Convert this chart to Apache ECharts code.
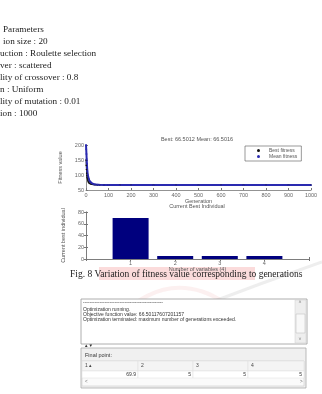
<!DOCTYPE html>
<html><head><meta charset="utf-8">
<script src="https://cdn.jsdelivr.net/npm/echarts@6/dist/echarts.min.js"></script>
<style>html,body{margin:0;padding:0;background:#fff}#c{width:322px;height:394px}</style>
</head><body><div id="c"></div>
<script>
// ---- data ----
const paramLines = ["Parameters","ion size : 20","uction : Roulette selection","ver : scattered","lity of crossover : 0.8","n : Uniform","lity of mutation : 0.01","ion : 1000"];
const generations = [0,1,2,3,4,5,6,8,10,12,15,20,25,30,35,40,50,60,80,100,150,200,300,400,500,600,700,800,900,1000];
const bestFitness = [150,132,118,106,98,92,87,81,77,74,72,70,69,68.4,68,67.6,67.1,66.8,66.62,66.56,66.52,66.51,66.503,66.502,66.5015,66.5013,66.5012,66.5012,66.5012,66.5012];
const meanFitness = [200,186,170,153,138,124,113,101,93,87,81,76,72.5,70.5,69.3,68.6,67.6,67.1,66.75,66.62,66.55,66.52,66.508,66.504,66.502,66.5018,66.5017,66.5016,66.5016,66.5016];
const genTicks = [0,100,200,300,400,500,600,700,800,900,1000];
const fitnessTicks = [50,100,150,200];
const variables = [1,2,3,4];
const bestIndividual = [69.9,5,5,5];
const indivTicks = [0,20,40,60,80];
const bestTitle = "Best: 66.5012 Mean: 66.5016";
const caption = "Fig. 8 Variation of fitness value corresponding to generations";
const logLines = ["------------------------------------------------","Optimization running.","Objective function value: 66.50117607201157","Optimization terminated: maximum number of generations exceeded."];
const finalHeaders = ["1 \u25B4","2","3","4"];
const finalValues = ["69.9","5","5","5"];

const chart = echarts.init(document.getElementById('c'), null, {renderer:'canvas'});
const sans = 'Liberation Sans, Arial, sans-serif';
const serif = 'Liberation Serif, Times New Roman, serif';
const tickLbl = {fontSize:5.5, color:'#666', fontFamily:sans};

const graphics = [];
// watermark
graphics.push({type:'rect', shape:{x:99,y:267,width:156,height:13}, style:{fill:'rgba(248,190,190,0.55)'}, z:0});
graphics.push({type:'arc', shape:{cx:180,cy:360,r:72,startAngle:Math.PI*1.1,endAngle:Math.PI*1.7}, style:{stroke:'rgba(240,170,170,0.18)',lineWidth:4,fill:null}, z:0});
graphics.push({type:'polyline', shape:{points:[[212,302],[260,284],[322,262]]}, style:{stroke:'rgba(160,160,160,0.18)',lineWidth:3,fill:null}, z:0});
// parameter lines
paramLines.forEach((t,i)=>graphics.push({type:'text', x:i<2?3:0, y:30+i*12, style:{text:t, font:'9.2px '+serif, fill:'#222', verticalAlign:'middle'}, z:5}));
// chart titles
graphics.push({type:'text', x:197, y:139, style:{text:bestTitle, font:'5.5px '+sans, fill:'#555', align:'center', verticalAlign:'middle'}});
graphics.push({type:'text', x:197, y:206, style:{text:'Current Best Individual', font:'5.5px '+sans, fill:'#555', align:'center', verticalAlign:'middle'}});
// caption
graphics.push({type:'text', x:70, y:274, style:{text:caption, font:'9.5px '+serif, fill:'#222', verticalAlign:'middle'}, z:5});
// dialog: log area
graphics.push({type:'rect', shape:{x:81,y:299,width:226,height:45}, style:{fill:'#fff',stroke:'#999',lineWidth:0.8}});
graphics.push({type:'rect', shape:{x:295,y:300,width:11,height:43}, style:{fill:'#eee',stroke:'#ccc',lineWidth:0.5}});
graphics.push({type:'rect', shape:{x:296,y:314,width:9,height:19}, style:{fill:'#f8f8f8',stroke:'#bbb',lineWidth:0.5}});
graphics.push({type:'text', x:300, y:303, style:{text:'\u02C4', font:'5px '+sans, fill:'#777', align:'center', verticalAlign:'middle'}});
graphics.push({type:'text', x:300, y:340, style:{text:'\u02C5', font:'5px '+sans, fill:'#777', align:'center', verticalAlign:'middle'}});
logLines.forEach((t,i)=>graphics.push({type:'text', x:83, y:[303,310,315,320][i], style:{text:t, font:'5px '+sans, fill:'#333', verticalAlign:'middle'}}));
graphics.push({type:'text', x:84, y:346, style:{text:'\u25B2\u25BC', font:'4.5px '+sans, fill:'#333', verticalAlign:'middle'}});
// final point panel
graphics.push({type:'rect', shape:{x:81,y:348,width:225,height:40}, style:{fill:'#f0f0f0',stroke:'#aaa',lineWidth:0.8}});
graphics.push({type:'text', x:85, y:355, style:{text:'Final point:', font:'5.5px '+sans, fill:'#333', verticalAlign:'middle'}});
graphics.push({type:'rect', shape:{x:82,y:361,width:222,height:25}, style:{fill:'#fafafa',stroke:'#ccc',lineWidth:0.6}});
const colX = [82,138,193,248,304];
for(let i=0;i<4;i++){
  graphics.push({type:'rect', shape:{x:colX[i],y:361,width:colX[i+1]-colX[i],height:10}, style:{fill:'#f4f4f4',stroke:'#ddd',lineWidth:0.5}});
  graphics.push({type:'rect', shape:{x:colX[i],y:371,width:colX[i+1]-colX[i],height:7}, style:{fill:'#fff',stroke:'#ddd',lineWidth:0.5}});
  graphics.push({type:'text', x:colX[i]+3, y:366, style:{text:finalHeaders[i], font:'5px '+sans, fill:'#444', verticalAlign:'middle'}});
  graphics.push({type:'text', x:colX[i+1]-2, y:374.5, style:{text:finalValues[i], font:'5px '+sans, fill:'#333', align:'right', verticalAlign:'middle'}});
}
graphics.push({type:'text', x:85, y:382, style:{text:'<', font:'4.5px '+sans, fill:'#666', verticalAlign:'middle'}});
graphics.push({type:'text', x:300, y:382, style:{text:'>', font:'4.5px '+sans, fill:'#666', verticalAlign:'middle'}});

const option = {
  animation:false,
  backgroundColor:'#fff',
  textStyle:{fontFamily:sans},
  grid:[
    {left:86, top:145, width:225, height:45, show:false},
    {left:86, top:212, width:223, height:47, show:false}
  ],
  legend:{
    data:['Best fitness','Mean fitness'], orient:'vertical', left:245, top:146,
    icon:'circle', itemWidth:3, itemHeight:3, itemGap:1, padding:[2,4,2,12],
    borderColor:'#555', borderWidth:0.6, backgroundColor:'#fff',
    textStyle:{fontSize:5, color:'#555', fontFamily:sans, padding:[0,0,0,4]}
  },
  xAxis:[
    {gridIndex:0, type:'value', min:0, max:1000, interval:100,
     name:'Generation', nameLocation:'middle', nameGap:8, nameTextStyle:{fontSize:5.5,color:'#555'},
     axisLine:{lineStyle:{color:'#777',width:0.8}}, axisTick:{inside:true,length:2,lineStyle:{color:'#777'}},
     axisLabel:Object.assign({margin:2, formatter:v=>genTicks.includes(v)?String(v):''}, tickLbl), splitLine:{show:false}},
    {gridIndex:1, type:'value', min:0, max:5, interval:1,
     name:'Number of variables (4)', nameLocation:'middle', nameGap:6, nameTextStyle:{fontSize:5.5,color:'#555'},
     axisLine:{lineStyle:{color:'#777',width:0.8}}, axisTick:{inside:true,length:2,lineStyle:{color:'#777'}},
     axisLabel:Object.assign({margin:1, formatter:v=>variables.includes(v)?String(v):''}, tickLbl), splitLine:{show:false}},
    {gridIndex:1, type:'value', position:'top', min:0, max:5, interval:1,
     axisLine:{lineStyle:{color:'#777',width:0.8}}, axisTick:{inside:true,length:2,lineStyle:{color:'#777'}},
     axisLabel:{show:false}, splitLine:{show:false}}
  ],
  yAxis:[
    {gridIndex:0, type:'value', min:50, max:200, interval:50,
     name:'Fitness value', nameLocation:'middle', nameGap:13, nameTextStyle:{fontSize:5.5,color:'#555'},
     axisLine:{show:true,lineStyle:{color:'#777',width:0.8}}, axisTick:{show:true,inside:true,length:2,lineStyle:{color:'#777'}},
     axisLabel:Object.assign({margin:2, formatter:v=>fitnessTicks.includes(v)?String(v):''}, tickLbl), splitLine:{show:false}},
    {gridIndex:1, type:'value', min:0, max:80, interval:20,
     name:'Current best individual', nameLocation:'middle', nameGap:13, nameTextStyle:{fontSize:5.5,color:'#555'},
     axisLine:{show:true,lineStyle:{color:'#777',width:0.8}}, axisTick:{show:true,inside:true,length:2,lineStyle:{color:'#777'}},
     axisLabel:Object.assign({margin:2, formatter:v=>indivTicks.includes(v)?String(v):''}, tickLbl), splitLine:{show:false}},
    {gridIndex:1, type:'value', position:'right', min:0, max:80, interval:20,
     axisLine:{show:true,lineStyle:{color:'#777',width:0.8}}, axisTick:{show:true,inside:true,length:2,lineStyle:{color:'#777'}},
     axisLabel:{show:false}, splitLine:{show:false}}
  ],
  series:[
    {name:'Best fitness', type:'line', xAxisIndex:0, yAxisIndex:0,
     data:generations.map((g,i)=>[g,bestFitness[i]]), symbol:'circle', symbolSize:1.6, showSymbol:true,
     itemStyle:{color:'#111'}, lineStyle:{color:'#222',width:1}},
    {name:'Mean fitness', type:'line', xAxisIndex:0, yAxisIndex:0,
     data:generations.map((g,i)=>[g,meanFitness[i]]), symbol:'circle', symbolSize:1.8, showSymbol:true,
     itemStyle:{color:'#2a2ab0'}, lineStyle:{color:'#2a2ab0',width:2}},
    {name:'Current best individual', type:'bar', xAxisIndex:1, yAxisIndex:1,
     data:variables.map((v,i)=>[v,bestIndividual[i]]), barWidth:36,
     itemStyle:{color:'#00007e'}}
  ],
  graphic:{elements:graphics}
};
chart.setOption(option);
</script></body></html>
